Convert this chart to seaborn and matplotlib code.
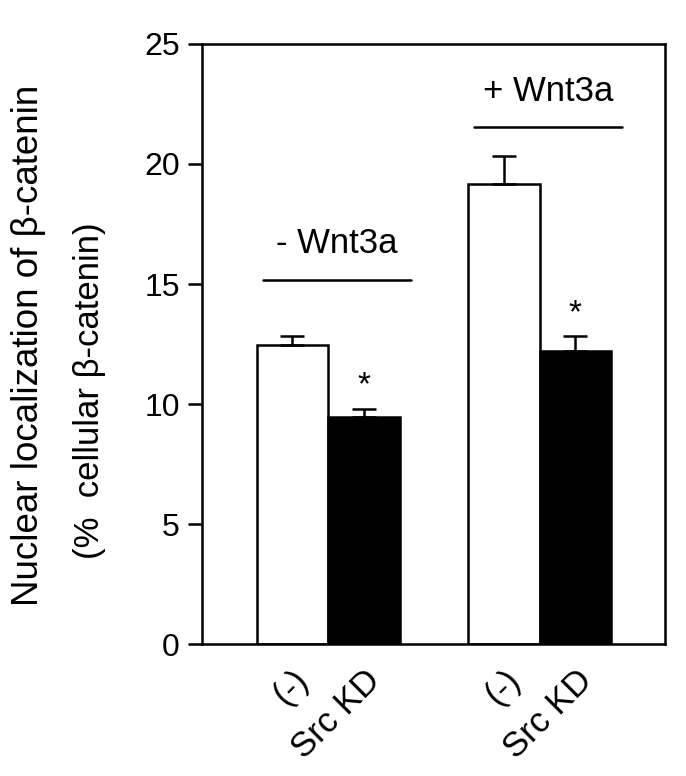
import numpy as np
import pandas as pd
import matplotlib
matplotlib.use("Agg")
import matplotlib.pyplot as plt
import seaborn as sns

# data
groups = ["- Wnt3a", "+ Wnt3a"]
treatments = ["(-)", "Src KD"]
means = [12.45, 9.46, 19.17, 12.21]
errs = [0.38, 0.33, 1.16, 0.62]
significant = [False, True, False, True]

sns.set_style("ticks")
plt.rcParams["font.family"] = ["Liberation Sans", "DejaVu Sans"]
plt.rcParams["text.color"] = "black"
plt.rcParams["xtick.color"] = "black"
plt.rcParams["ytick.color"] = "black"
plt.rcParams["xtick.labelcolor"] = "black"
plt.rcParams["ytick.labelcolor"] = "black"

df = pd.DataFrame({
    "group": np.repeat(groups, len(treatments)),
    "treatment": treatments * len(groups),
    "value": means,
})

fig = plt.figure(figsize=(6.86, 7.76), dpi=100)
ax = fig.add_axes([0.2945, 0.1701, 0.675, 0.7732])

sns.barplot(data=df, x="group", y="value", hue="treatment", order=groups,
            hue_order=treatments, palette=["white", "black"], width=0.676,
            edgecolor="black", linewidth=1.8, errorbar=None, legend=False,
            saturation=1, ax=ax)

# bar centres from the drawn patches
centers = []
for p in ax.patches[:len(df)]:
    centers.append(p.get_x() + p.get_width() / 2)
order = np.argsort(centers)
centers = np.array(centers)[order]
heights = np.array([p.get_height() for p in ax.patches[:len(df)]])[order]

ax.errorbar(centers, heights, yerr=[np.zeros(len(errs)), errs], fmt="none",
            ecolor="black", elinewidth=1.8, capsize=8.5, capthick=1.8)

for c, h, e, s in zip(centers, heights, errs, significant):
    if s:
        ax.text(c, h + e + 0.95, "*", ha="center", va="center", fontsize=24)

# group labels with lines
for i, g in enumerate(groups):
    top = max(m + e for m, e in zip(means[i * 2:i * 2 + 2], errs[i * 2:i * 2 + 2]))
    ly = top + 2.35 if i == 0 else top + 1.2
    ax.plot([i - 0.31, i + 0.39], [ly, ly], color="black", lw=1.8, clip_on=False)
    ax.text(i + 0.04, ly + 1.5, g, ha="center", va="center", fontsize=25)

ax.set_ylim(0, 25)
ax.set_xlim(-0.596, 1.593)
ax.set_yticks([0, 5, 10, 15, 20, 25])
ax.tick_params(axis="y", labelsize=23, length=10, width=1.8, direction="out", pad=6)
ax.set_xticks(centers)
ax.set_xticklabels(treatments * len(groups), rotation=45, ha="right",
                   rotation_mode="anchor", fontsize=25)
ax.tick_params(axis="x", length=0, pad=14)
ax.set_xlabel("")
ax.set_ylabel("")
for sp in ax.spines.values():
    sp.set_visible(True)
    sp.set_linewidth(1.8)
    sp.set_color("black")

fig.text(0.041, 0.555, "Nuclear localization of \u03b2-catenin", rotation=90,
         ha="center", va="center", fontsize=26.5)
fig.text(0.131, 0.497, "(%  cellular \u03b2-catenin)", rotation=90,
         ha="center", va="center", fontsize=25)

fig.savefig("out.png", dpi=100, facecolor="white")
